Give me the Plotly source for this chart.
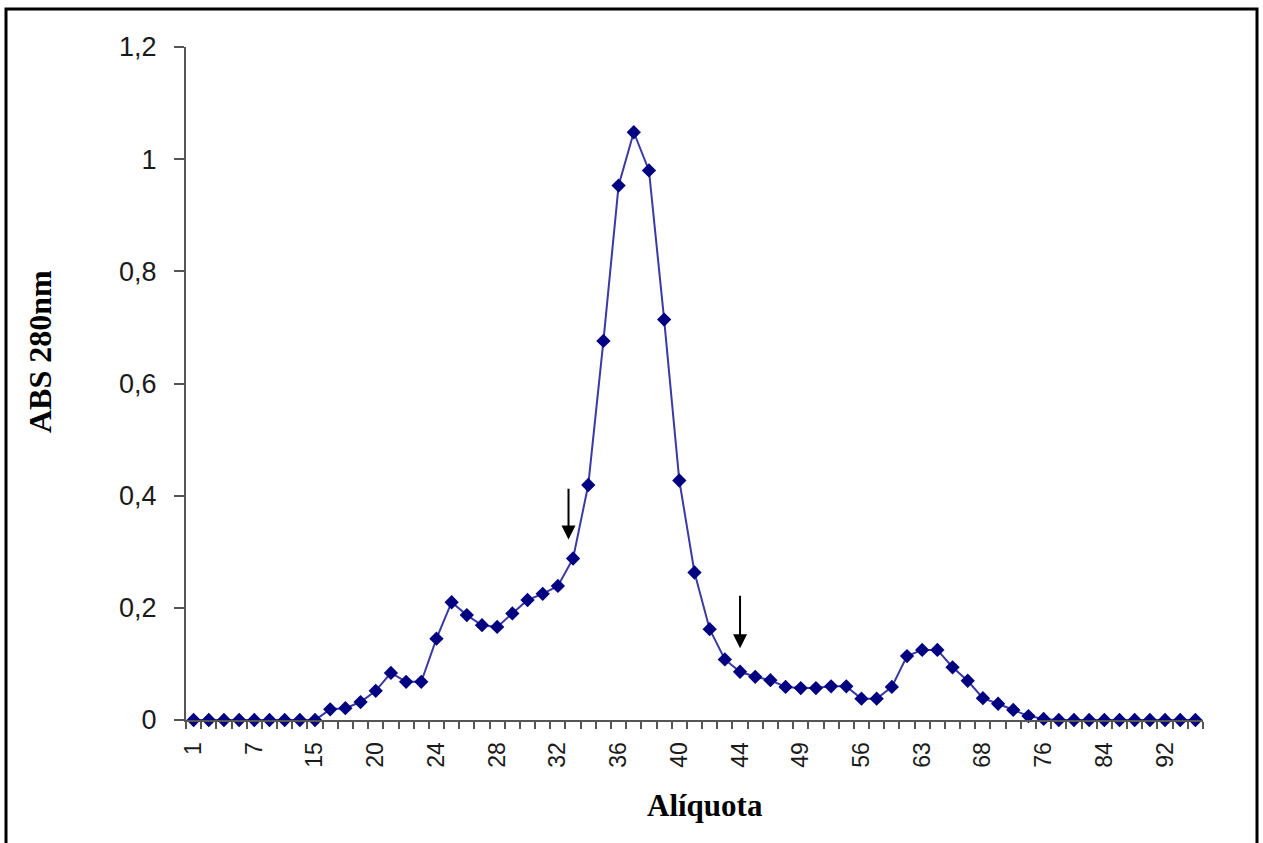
import plotly.graph_objects as go

# Aliquot labels (category per point)
aliquots = ["1", "2", "3", "5", "7", "9", "11", "13", "15", "16", "17", "19",
            "20", "21", "22", "23", "24", "25", "26", "27", "28", "29", "30", "31",
            "32", "33", "34", "35", "36", "37", "38", "39", "40", "41", "42", "43",
            "44", "45", "46", "48", "49", "51", "53", "54", "56", "58", "60", "61",
            "63", "64", "65", "67", "68", "70", "72", "74", "76", "78", "80", "82",
            "84", "86", "88", "90", "92", "94", "96"]

abs280 = [0, 0, 0, 0, 0, 0, 0, 0, 0, 0.019, 0.021, 0.032,
          0.052, 0.084, 0.068, 0.068, 0.145, 0.210, 0.187, 0.169, 0.166, 0.190, 0.214, 0.225,
          0.239, 0.288, 0.419, 0.676, 0.953, 1.048, 0.980, 0.714, 0.427, 0.263, 0.162, 0.108,
          0.086, 0.077, 0.071, 0.059, 0.057, 0.057, 0.060, 0.060, 0.038, 0.038, 0.059, 0.114,
          0.125, 0.125, 0.094, 0.070, 0.039, 0.029, 0.018, 0.007, 0.002, 0, 0,
          0, 0, 0, 0, 0, 0, 0, 0]

y_ticks = [0, 0.2, 0.4, 0.6, 0.8, 1.0, 1.2]
y_ticktext = ["0", "0,2", "0,4", "0,6", "0,8", "1", "1,2"]

x_title = "Alíquota"
y_title = "ABS 280nm"

# Arrow annotations: (x index, tail y, head y)
arrows = [(24.7, 0.415, 0.322), (36.0, 0.224, 0.128)]

idx = list(range(len(aliquots)))
label_idx = idx[::4]

L, R, T, B = 186, 60, 47, 123
W, H = 1263, 843
PW, PH = W - L - R, H - T - B


def px_x(px):
    return (px - L) / PW


def px_y(py):
    return (H - B - py) / PH


fig = go.Figure()
fig.add_trace(go.Scatter(
    x=idx, y=abs280, mode="lines+markers",
    line=dict(color="#3a3aa6", width=2),
    marker=dict(symbol="diamond", size=11, color="#000080"),
    cliponaxis=False, showlegend=False,
))

for ax_x, tail, head in arrows:
    fig.add_annotation(
        x=ax_x, y=head, ax=ax_x, ay=tail, xref="x", yref="y", axref="x", ayref="y",
        text="", showarrow=True, arrowhead=2, arrowsize=1.4, arrowwidth=2,
        arrowcolor="black",
    )

serif = "Liberation Serif, Times New Roman, serif"
fig.add_annotation(text=x_title, xref="paper", yref="paper",
                   x=px_x(705), y=px_y(805), xanchor="center", yanchor="middle",
                   showarrow=False,
                   font=dict(family=serif, size=31, color="black", weight="bold"))
fig.add_annotation(text=y_title, xref="paper", yref="paper", textangle=-90,
                   x=px_x(40), y=px_y(352), xanchor="center", yanchor="middle",
                   showarrow=False,
                   font=dict(family=serif, size=32, color="black", weight="bold"))

fig.update_layout(
    width=W, height=H,
    margin=dict(l=L, r=R, t=T, b=B),
    paper_bgcolor="white", plot_bgcolor="white",
    font=dict(family="Liberation Sans, Arial, sans-serif", color="black"),
    xaxis=dict(
        range=[-0.5, len(aliquots) - 0.5],
        tickmode="array", tickvals=label_idx,
        ticktext=[aliquots[i] for i in label_idx],
        tickangle=-90, ticks="", tickfont=dict(size=23, color="#1a1a1a"),
        ticklabelstandoff=11,
        showline=True, linecolor="#555", linewidth=2,
        showgrid=False, zeroline=False,
        minor=dict(ticks="outside", tick0=0.5, dtick=1, ticklen=7,
                   tickwidth=2, tickcolor="#555", showgrid=False),
    ),
    yaxis=dict(
        range=[0, 1.2], tickmode="array", tickvals=y_ticks, ticktext=y_ticktext,
        ticks="outside", ticklen=10, tickwidth=2, tickcolor="#555",
        tickfont=dict(size=27, color="#1a1a1a"),
        ticklabelstandoff=12,
        showline=True, linecolor="#555", linewidth=2,
        showgrid=False, zeroline=False,
    ),
)

# Outer frame of the figure
fig.add_shape(type="rect", xref="paper", yref="paper",
              x0=px_x(6), x1=px_x(1257), y0=px_y(850), y1=px_y(9),
              line=dict(color="black", width=3), layer="below")

fig.write_html("out.html")
